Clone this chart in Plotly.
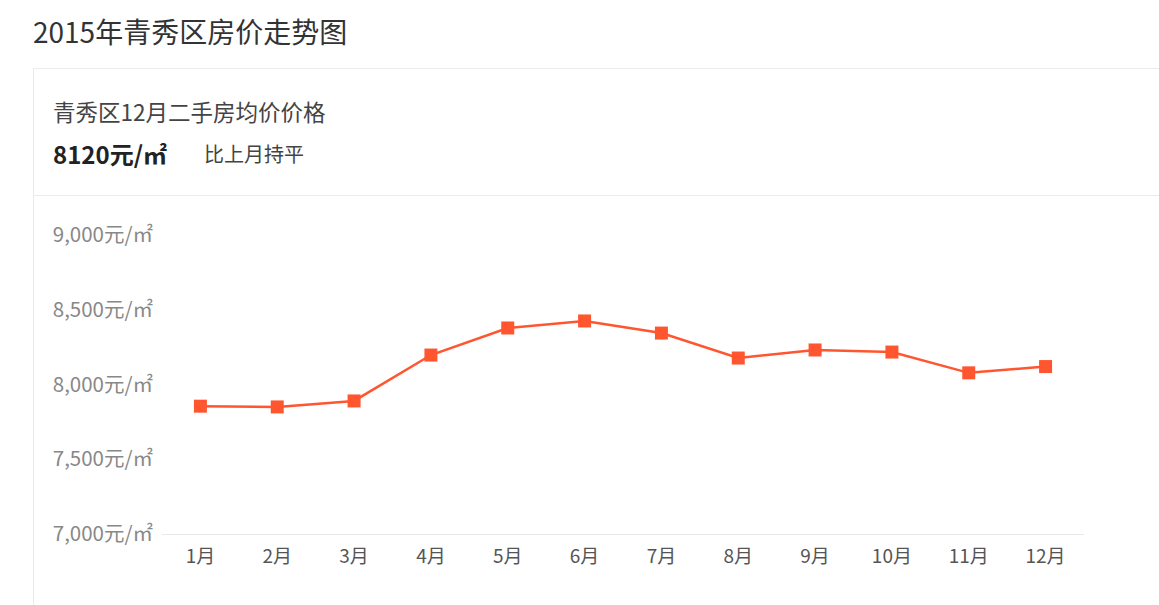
import plotly.graph_objects as go

months = ["1月", "2月", "3月", "4月", "5月", "6月", "7月", "8月", "9月", "10月", "11月", "12月"]
prices = [7855, 7850, 7890, 8197, 8378, 8425, 8344, 8177, 8231, 8217, 8078, 8120]
y_ticks = [7000, 7500, 8000, 8500, 9000]
y_ticktext = [f"{v:,}元/㎡" for v in y_ticks]

W, H = 1159, 605
FONT = "Noto Sans CJK SC"
LINE_COLOR = "#ff5630"

def px(x):
    return x / W

def py(y):
    return 1 - y / H

fig = go.Figure()
fig.add_trace(go.Scatter(
    x=months, y=prices, mode="lines+markers",
    line=dict(color=LINE_COLOR, width=2.5),
    marker=dict(symbol="square", size=13, color=LINE_COLOR, line=dict(width=0)),
    hoverinfo="x+y", showlegend=False,
))

shapes = [
    dict(type="line", xref="paper", yref="paper", x0=px(33.5), x1=px(1160), y0=py(68.5), y1=py(68.5),
         line=dict(color="#ebebeb", width=1)),
    dict(type="line", xref="paper", yref="paper", x0=px(33.5), x1=px(33.5), y0=py(68.5), y1=py(606),
         line=dict(color="#ebebeb", width=1)),
    dict(type="line", xref="paper", yref="paper", x0=px(33.5), x1=px(1160), y0=py(195.5), y1=py(195.5),
         line=dict(color="#ebebeb", width=1)),
]

annotations = [
    dict(text="2015年青秀区房价走势图", x=px(31), y=py(31), xref="paper", yref="paper",
         xanchor="left", yanchor="middle", showarrow=False,
         font=dict(family=FONT, size=28, color="#333333")),
    dict(text="青秀区12月二手房均价价格", x=px(51), y=py(111), xref="paper", yref="paper",
         xanchor="left", yanchor="middle", showarrow=False,
         font=dict(family=FONT, size=22.5, color="#444444")),
    dict(text="<b>8120元/㎡</b>", x=px(51), y=py(153), xref="paper", yref="paper",
         xanchor="left", yanchor="middle", showarrow=False,
         font=dict(family=FONT, size=24, color="#222222")),
    dict(text="比上月持平", x=px(202), y=py(154), xref="paper", yref="paper",
         xanchor="left", yanchor="middle", showarrow=False,
         font=dict(family=FONT, size=20, color="#444444")),
]

fig.update_layout(
    width=W, height=H,
    margin=dict(l=0, r=0, t=0, b=0, autoexpand=False),
    paper_bgcolor="white", plot_bgcolor="white",
    shapes=shapes, annotations=annotations,
    xaxis=dict(
        domain=[px(162), px(1084)],
        range=[-0.5, 11.5],
        automargin=False,
        showgrid=False, zeroline=False,
        showline=True, linecolor="#e8e8e8", linewidth=1,
        ticks="", tickfont=dict(family=FONT, size=19, color="#555555"),
        ticklabelstandoff=5,
    ),
    yaxis=dict(
        domain=[py(534), py(235)],
        range=[7000, 9000],
        automargin=False,
        tickvals=y_ticks, ticktext=y_ticktext,
        showgrid=False, zeroline=False, showline=False,
        ticks="", tickfont=dict(family=FONT, size=20.5, color="#888888"),
        ticklabelstandoff=8,
    ),
    font=dict(family=FONT),
)

fig.write_html("out.html")
